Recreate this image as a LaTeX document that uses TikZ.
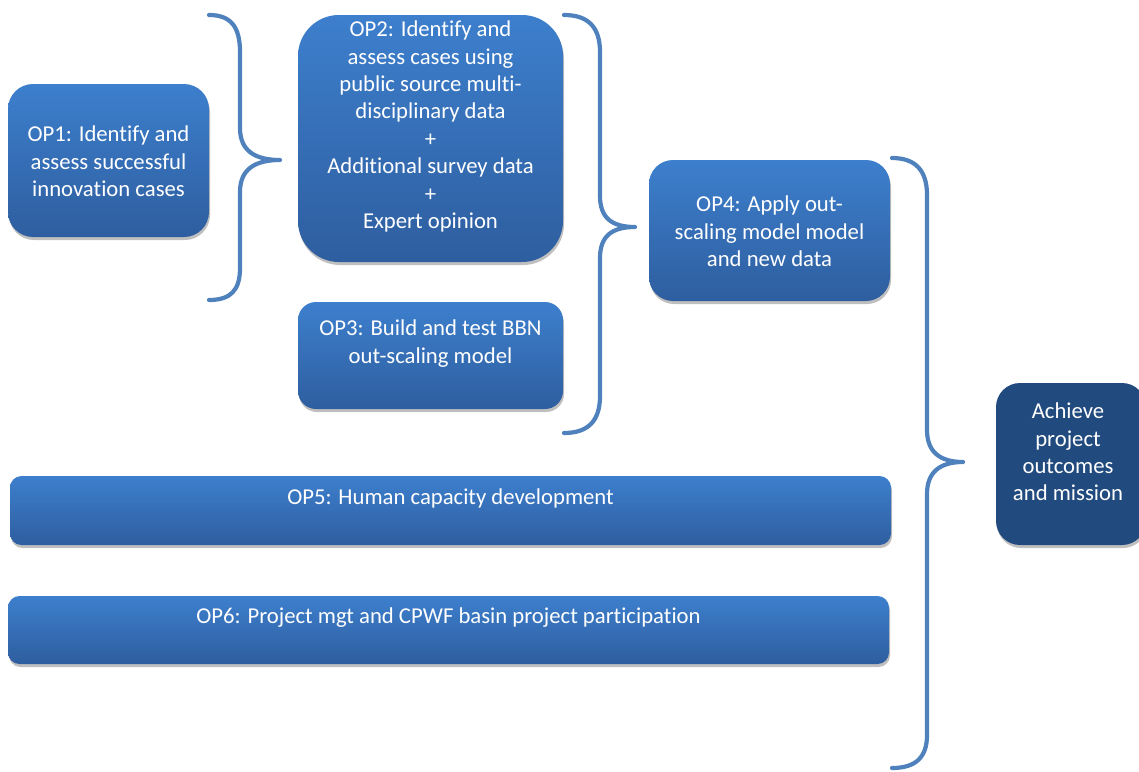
\documentclass[tikz,border=0pt]{standalone}
\usepackage{fontspec}
\setmainfont[Ligatures=NoCommon]{Carlito}
\usetikzlibrary{shadows}
\definecolor{boxtop}{HTML}{3D7FCD}
\definecolor{boxbot}{HTML}{2E5E9F}
\definecolor{darkbox}{HTML}{214A7E}
\definecolor{bracecol}{HTML}{4F81BD}
\tikzset{
  opbox/.style={draw=none, top color=boxtop, bottom color=boxbot, inner sep=0pt,
    drop shadow={shadow xshift=1pt, shadow yshift=-3pt, opacity=0.25, fill=black}},
  finalbox/.style={draw=none, fill=darkbox, inner sep=0pt,
    drop shadow={shadow xshift=1pt, shadow yshift=-3pt, opacity=0.25, fill=black}},
  optext/.style={text=white, align=center, inner sep=0pt,
    font=\fontsize{22.7pt}{27.4pt}\selectfont},
  bracestyle/.style={draw=bracecol, line width=4.2pt, line cap=round, line join=round}
}
\begin{document}
\begin{tikzpicture}[x=1pt, y=-1pt]
\useasboundingbox (0,0) rectangle (1139,771);
% boxes
\node[opbox, rounded corners=25pt, minimum width=201pt, minimum height=153pt] (op1) at (108.5,160.5) {};
\node[opbox, rounded corners=41pt, minimum width=265pt, minimum height=247pt] (op2) at (430.5,138.5) {};
\node[opbox, rounded corners=18pt, minimum width=265pt, minimum height=107pt] (op3) at (430.5,355.5) {};
\node[opbox, rounded corners=24pt, minimum width=241pt, minimum height=141pt] (op4) at (769.5,230.5) {};
\node[opbox, rounded corners=11.5pt, minimum width=881pt, minimum height=69pt] (op5) at (450.5,510.5) {};
\node[opbox, rounded corners=11.5pt, minimum width=881pt, minimum height=68pt] (op6) at (448.5,630) {};
\node[finalbox, rounded corners=24pt, minimum width=150pt, minimum height=162pt] (fin) at (1071,464) {};
% texts
\node[optext] (t1) at ([yshift=-1pt]op1.center) {OP1: Identify and\\assess successful\\innovation cases};
\node[optext] (t2) at ([yshift=12pt]op2.center) {OP2: Identify and\\assess cases using\\public source multi-\\disciplinary data\\+\\Additional survey data\\+\\Expert opinion};
\node[optext] (t3) at ([yshift=12pt]op3.center) {OP3: Build and test BBN\\out-scaling model};
\node[optext] (t4) at ([yshift=-1pt]op4.center) {OP4: Apply out-\\scaling model model\\and new data};
\node[optext] (t5) at ([yshift=12pt]op5.center) {OP5: Human capacity development};
\node[optext] (t6) at ([yshift=12pt]op6.center) {OP6: Project mgt and CPWF basin project participation};
\node[optext] (t7) at ([xshift=-3pt,yshift=12pt]fin.center) {Achieve\\project\\outcomes\\and mission};
% braces
\draw[bracestyle] (209,15) .. controls (231,15) and (240,27) .. (240,52) -- (240,128)
  .. controls (240,150) and (254,160) .. (280,160)
  .. controls (254,160) and (240,170) .. (240,192) -- (240,268)
  .. controls (240,290) and (231,300) .. (209,300);
\draw[bracestyle] (564,15) .. controls (588,15) and (600,27) .. (600,52) -- (600,196)
  .. controls (600,218) and (612,227) .. (635,227)
  .. controls (612,227) and (600,236) .. (600,258) -- (600,396)
  .. controls (600,421) and (588,433) .. (564,433);
\draw[bracestyle] (892,158) .. controls (915,158) and (927,170) .. (927,195) -- (927,430)
  .. controls (927,452) and (940,462) .. (963,462)
  .. controls (940,462) and (927,472) .. (927,494) -- (927,735)
  .. controls (927,758) and (915,768) .. (892,768);
\end{tikzpicture}
\end{document}
